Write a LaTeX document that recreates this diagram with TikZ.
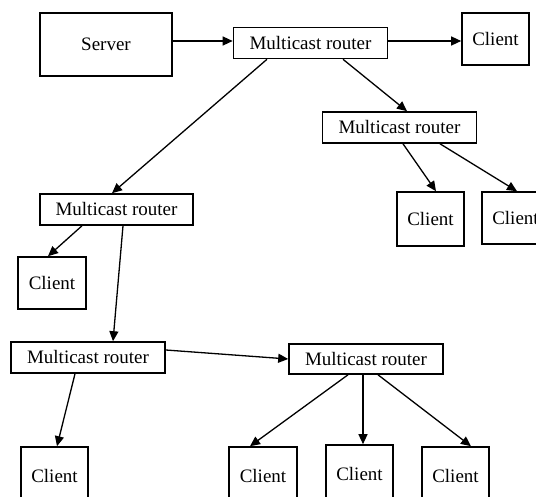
\documentclass[tikz,border=0pt]{standalone}
\usepackage{fontspec}
\setmainfont{Liberation Serif}
\usetikzlibrary{arrows.meta,calc}
\begin{document}
\begin{tikzpicture}[x=1pt,y=-1pt,
  box/.style={draw,line width=1.6pt,inner sep=0pt,font=\fontsize{19}{22}\selectfont},
  router/.style={box,minimum width=154pt,minimum height=31pt},
  client/.style={box,minimum width=67pt,minimum height=53pt},
  arr/.style={line width=1.3pt,-{Triangle[length=10pt,width=9pt]}}]
\useasboundingbox (0,0) rectangle (536,497);
\clip (0,0) rectangle (536,497);
\node[box,minimum width=132pt,minimum height=63pt] (server) at (106,44.5) {Server};
\node[router] (mr1) at (310.5,43) {Multicast router};
\node[client,minimum height=52pt] (c1) at (495.5,39) {Client};
\node[router] (mr2) at (399.5,127.5) {Multicast router};
\node[client,minimum height=54pt] (c2) at (430.5,219) {Client};
\node[client,minimum height=52pt] (c3) at (515.5,218) {Client};
\node[router,minimum width=153pt] (mr3) at (116.5,209.5) {Multicast router};
\node[client,minimum width=68pt,minimum height=52pt] (c4) at (52,283) {Client};
\node[router] (mr4) at (88,357.5) {Multicast router};
\node[client,minimum height=58pt] (c5) at (54.5,476) {Client};
\node[router,minimum height=30pt] (mr5) at (366,359) {Multicast router};
\node[client,minimum width=68pt,minimum height=58pt] (c6) at (263,476) {Client};
\node[client,minimum height=58pt] (c7) at (359.5,474) {Client};
\node[client,minimum height=58pt] (c8) at (455.5,476) {Client};
\draw[arr] (server.east |- 0,41) -- (mr1.west |- 0,41);
\draw[arr] (mr1.east |- 0,41) -- (c1.west |- 0,41);
\draw[arr] ($(mr1.south)+(32.5,0)$) -- ($(mr2.north)+(7.5,0)$);
\draw[arr] ($(mr1.south)+(-43.5,0)$) -- ($(mr3.north)+(-4.5,0)$);
\draw[arr] ($(mr2.south)+(3.5,0)$) -- ($(c2.north)+(5.5,0)$);
\draw[arr] ($(mr2.south)+(40.5,0)$) -- ($(c3.north)+(1.5,0)$);
\draw[arr] ($(mr3.south)+(-34.5,0)$) -- ($(c4.north)+(-4,0)$);
\draw[arr] ($(mr3.south)+(6.5,0)$) -- ($(mr4.north)+(25,0)$);
\draw[arr] ($(mr4.south)+(-13,0)$) -- ($(c5.north)+(2.5,0)$);
\draw[arr] ($(mr4.east)+(0,-7.5)$) -- (mr5.west);
\draw[arr] ($(mr5.south)+(-18,0)$) -- ($(c6.north)+(-13,0)$);
\draw[arr] ($(mr5.south)+(-3,0)$) -- ($(c7.north)+(3.5,0)$);
\draw[arr] ($(mr5.south)+(12,0)$) -- ($(c8.north)+(15.5,0)$);
\end{tikzpicture}
\end{document}
